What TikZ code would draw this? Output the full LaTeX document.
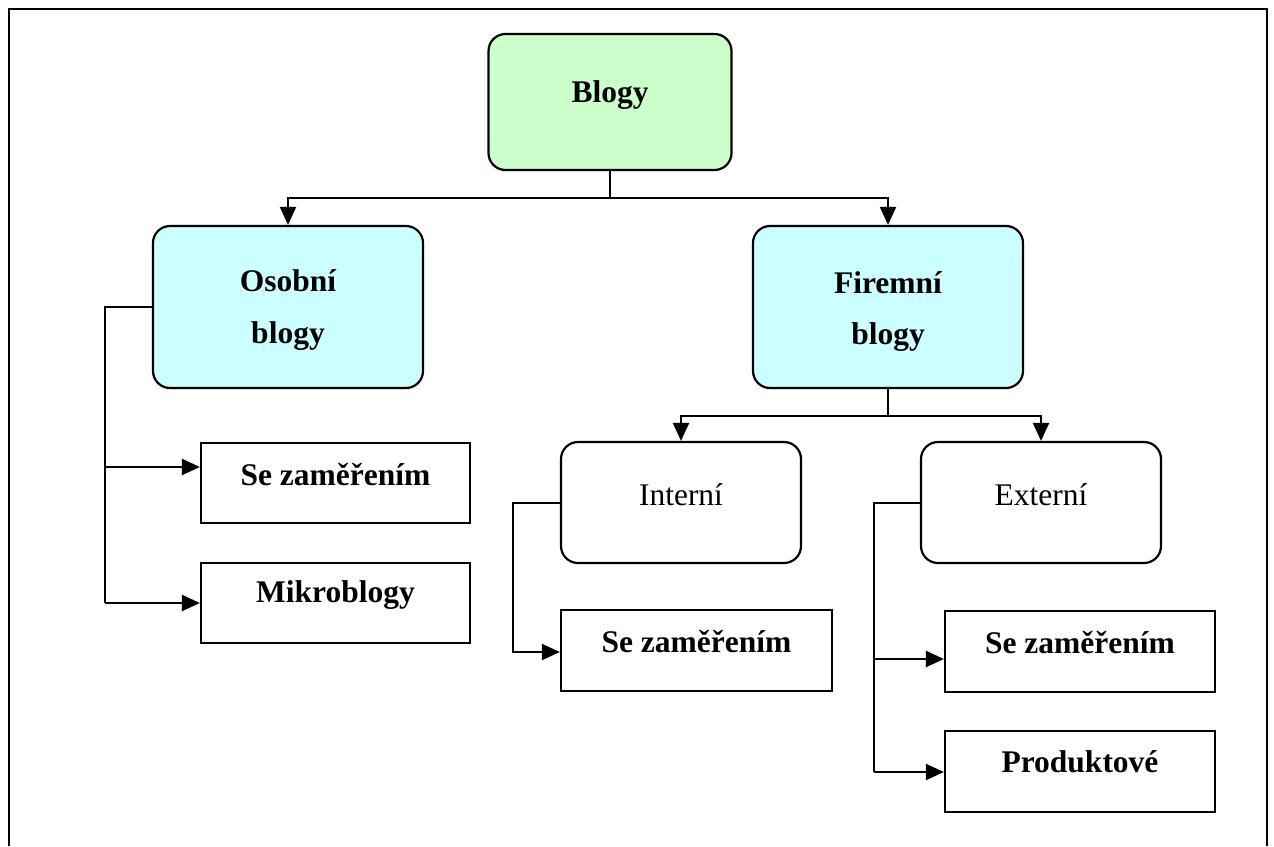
\documentclass[tikz,border=0pt]{standalone}
\usepackage{fontspec}
\setmainfont{Liberation Serif}
\usetikzlibrary{arrows.meta}
\definecolor{boxgreen}{HTML}{CCFFCC}
\definecolor{boxcyan}{HTML}{CCFFFF}
\begin{document}
\begin{tikzpicture}[x=1pt,y=-1pt,
  rbox/.style={draw=black,line width=2.2pt,rounded corners=17pt,inner sep=0pt},
  sbox/.style={draw=black,line width=2.2pt,inner sep=0pt,fill=white},
  lbl/.style={anchor=base,inner sep=0pt,font=\fontsize{31.5}{36}\selectfont\bfseries},
  lblr/.style={anchor=base,inner sep=0pt,font=\fontsize{31.5}{36}\selectfont},
  conn/.style={line width=2.2pt},
  arr/.style={line width=2.2pt,-{Triangle[length=18pt,width=16pt]}}]
\useasboundingbox (0,0) rectangle (1274,846);
% outer frame
\draw[line width=2.2pt] (9,846) -- (9,9) -- (1267,9) -- (1267,846);
% boxes
\node[rbox,fill=boxgreen,minimum width=243pt,minimum height=136pt] (blogy) at (610,102) {};
\node[rbox,fill=boxcyan,minimum width=270pt,minimum height=162pt] (osobni) at (288,307) {};
\node[rbox,fill=boxcyan,minimum width=270pt,minimum height=162pt] (firemni) at (888,307) {};
\node[sbox,minimum width=269pt,minimum height=80pt] (sz1) at (335.5,483) {};
\node[sbox,minimum width=269pt,minimum height=80pt] (mikro) at (335.5,603) {};
\node[rbox,fill=white,minimum width=240pt,minimum height=121pt] (interni) at (681,502.5) {};
\node[rbox,fill=white,minimum width=240pt,minimum height=121pt] (externi) at (1041,502.5) {};
\node[sbox,minimum width=271pt,minimum height=81pt] (sz2) at (696.5,650.5) {};
\node[sbox,minimum width=270pt,minimum height=81pt] (sz3) at (1080,651.5) {};
\node[sbox,minimum width=270pt,minimum height=81pt] (prod) at (1080,771.5) {};
% texts
\node[lbl] (tblogy) at (610,102) {Blogy};
\node[lbl] (tos1) at (288,291) {Osobní};
\node[lbl] (tos2) at (288,343) {blogy};
\node[lbl] (tfi1) at (888,293) {Firemní};
\node[lbl] (tfi2) at (888,344) {blogy};
\node[lbl] (tsz1) at (335.5,485) {Se zaměřením};
\node[lbl] (tmikro) at (335.5,602) {Mikroblogy};
\node[lblr] (tint) at (681,505) {Interní};
\node[lblr] (text) at (1041,505) {Externí};
\node[lbl] (tsz2) at (696.5,652) {Se zaměřením};
\node[lbl] (tsz3) at (1080,653) {Se zaměřením};
\node[lbl] (tprod) at (1080,772) {Produktové};
% connector coordinates
\coordinate (j1) at (610,198);
\coordinate (fJ) at (888,416);
\coordinate (oL) at (105,307);
\coordinate (oA) at (105,467);
\coordinate (oB) at (105,603);
\coordinate (iL) at (513,503);
\coordinate (iB) at (513,652);
\coordinate (eL) at (874,503);
\coordinate (eA) at (874,659);
\coordinate (eB) at (874,772);
% connectors
\draw[conn] (blogy.south) -- (j1);
\draw[arr] (j1) -| (osobni.north);
\draw[arr] (j1) -| (firemni.north);
\draw[conn] (osobni.west |- oL) -- (oL) -- (oB);
\draw[arr] (oA) -- (sz1.west |- oA);
\draw[arr] (oB) -- (mikro.west |- oB);
\draw[conn] (firemni.south) -- (fJ);
\draw[arr] (fJ) -| (interni.north);
\draw[arr] (fJ) -| (externi.north);
\draw[arr] (interni.west |- iL) -- (iL) -- (iB) -- (sz2.west |- iB);
\draw[conn] (externi.west |- eL) -- (eL) -- (eB);
\draw[arr] (eA) -- (sz3.west |- eA);
\draw[arr] (eB) -- (prod.west |- eB);
\end{tikzpicture}
\end{document}
